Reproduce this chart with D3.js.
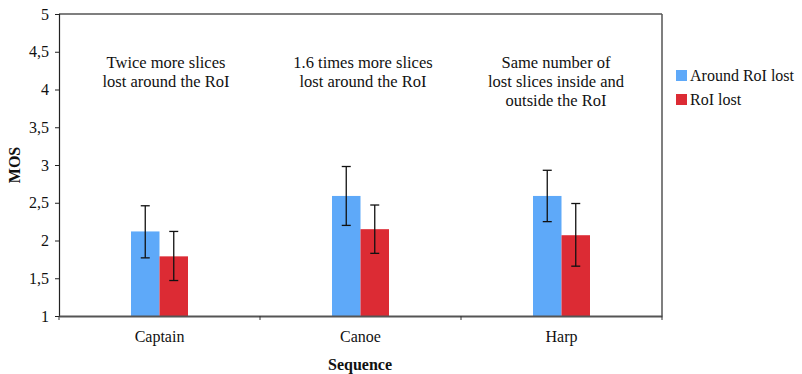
<!DOCTYPE html>
<html><head><meta charset="utf-8">
<script src="https://cdn.jsdelivr.net/npm/d3@7"></script>
<style>body{margin:0;background:#fff}svg{display:block}text{font-family:"Liberation Serif","Tinos","Times New Roman","DejaVu Serif",serif;fill:#111}</style>
</head><body><svg id="c" width="802" height="374"></svg>
<script>
const categories = ["Captain", "Canoe", "Harp"];
const seriesNames = ["Around RoI lost", "RoI lost"];
const aroundMean = [2.12, 2.59, 2.59];
const aroundLow = [1.77, 2.20, 2.25];
const aroundHigh = [2.46, 2.98, 2.93];
const roiMean = [1.79, 2.15, 2.07];
const roiLow = [1.47, 1.83, 1.66];
const roiHigh = [2.12, 2.47, 2.49];
const yTicks = [1, 1.5, 2, 2.5, 3, 3.5, 4, 4.5, 5];
const notes = [
  ["Twice more slices", "lost around the RoI"],
  ["1.6 times more slices", "lost around the RoI"],
  ["Same number of", "lost slices inside and", "outside the RoI"]
];
const colors = ["#5ea9f9", "#dc2b34"];
const FONT = '"Liberation Serif","Tinos","Times New Roman","DejaVu Serif",serif';

const svg = d3.select("#c");
const L = 59, R = 662, T = 14, B = 316;
const x = d3.scaleBand().domain(categories).range([L, R]);
const xs = d3.scaleBand().domain(seriesNames).range([0, 57]);
const y = d3.scaleLinear().domain([1, 5]).range([B, T]);
const fmt = d => String(d).replace(".", ",");

// frame
svg.append("line").attr("x1", L).attr("x2", R).attr("y1", T).attr("y2", T).attr("stroke", "#555").attr("stroke-width", 1.5);
svg.append("line").attr("x1", R).attr("x2", R).attr("y1", T).attr("y2", B).attr("stroke", "#555").attr("stroke-width", 1.5);

const series = [
  {name: seriesNames[0], mean: aroundMean, lo: aroundLow, hi: aroundHigh},
  {name: seriesNames[1], mean: roiMean, lo: roiLow, hi: roiHigh}
];
series.forEach((s, si) => {
  const g = svg.append("g");
  categories.forEach((c, i) => {
    const x0 = x(c) + x.bandwidth() / 2 - 28.5 + xs(s.name);
    g.append("rect").attr("x", x0).attr("width", xs.bandwidth()).attr("y", y(s.mean[i])).attr("height", B - y(s.mean[i]))
      .attr("fill", colors[si]);
  });
});
series.forEach((s, si) => {
  categories.forEach((c, i) => {
    const cx = x(c) + x.bandwidth() / 2 - 28.5 + xs(s.name) + xs.bandwidth() / 2;
    const g = svg.append("g").attr("stroke", "#111").attr("stroke-width", 1.3);
    g.append("line").attr("x1", cx).attr("x2", cx).attr("y1", y(s.hi[i])).attr("y2", y(s.lo[i]));
    g.append("line").attr("x1", cx - 4.5).attr("x2", cx + 4.5).attr("y1", y(s.hi[i])).attr("y2", y(s.hi[i]));
    g.append("line").attr("x1", cx - 4.5).attr("x2", cx + 4.5).attr("y1", y(s.lo[i])).attr("y2", y(s.lo[i]));
  });
});

// y axis
const ya = svg.append("g").attr("transform", `translate(${L},0)`)
  .call(d3.axisLeft(y).tickValues(yTicks).tickFormat(fmt).tickSize(4).tickPadding(6));
ya.attr("font-family", FONT);
ya.select(".domain").attr("stroke", "#222").attr("stroke-width", 1.2);
ya.selectAll(".tick line").attr("stroke", "#222");
ya.selectAll(".tick text").style("font-size", "16px").attr("fill", "#111").style("font-family", FONT);

// x axis
const xa = svg.append("g").attr("transform", `translate(0,${B})`)
  .call(d3.axisBottom(x).tickSize(0).tickPadding(15));
xa.attr("font-family", FONT);
xa.select(".domain").attr("stroke", "#555").attr("stroke-width", 2);
xa.selectAll(".tick text").style("font-size", "16px").attr("fill", "#111").style("font-family", FONT);
svg.append("g").selectAll("line").data(x.domain().slice(1).map(c => x(c)).concat([L, R])).join("line")
  .attr("x1", d => d).attr("x2", d => d).attr("y1", B).attr("y2", B + 4).attr("stroke", "#333");

// axis titles
svg.append("text").attr("transform", `translate(20,${(T + B) / 2}) rotate(-90)`).attr("text-anchor", "middle")
  .style("font-size", "16px").style("font-weight", "bold").text("MOS");
svg.append("text").attr("x", 360).attr("y", 370).attr("text-anchor", "middle")
  .style("font-size", "16px").style("font-weight", "bold").text("Sequence");

// annotations
const noteX = [166, 363, 556];
notes.forEach((lines, i) => {
  const t = svg.append("text").attr("text-anchor", "middle").style("font-size", "16.5px");
  lines.forEach((ln, j) => t.append("tspan").attr("x", noteX[i]).attr("y", 68 + j * 19).text(ln));
});

// legend
const lg = svg.append("g");
seriesNames.forEach((n, i) => {
  lg.append("rect").attr("x", 676).attr("y", 70 + i * 24).attr("width", 11).attr("height", 11).attr("fill", colors[i]);
  lg.append("text").attr("x", 690).attr("y", 81 + i * 24).style("font-size", "16px").text(n);
});
</script></body></html>
